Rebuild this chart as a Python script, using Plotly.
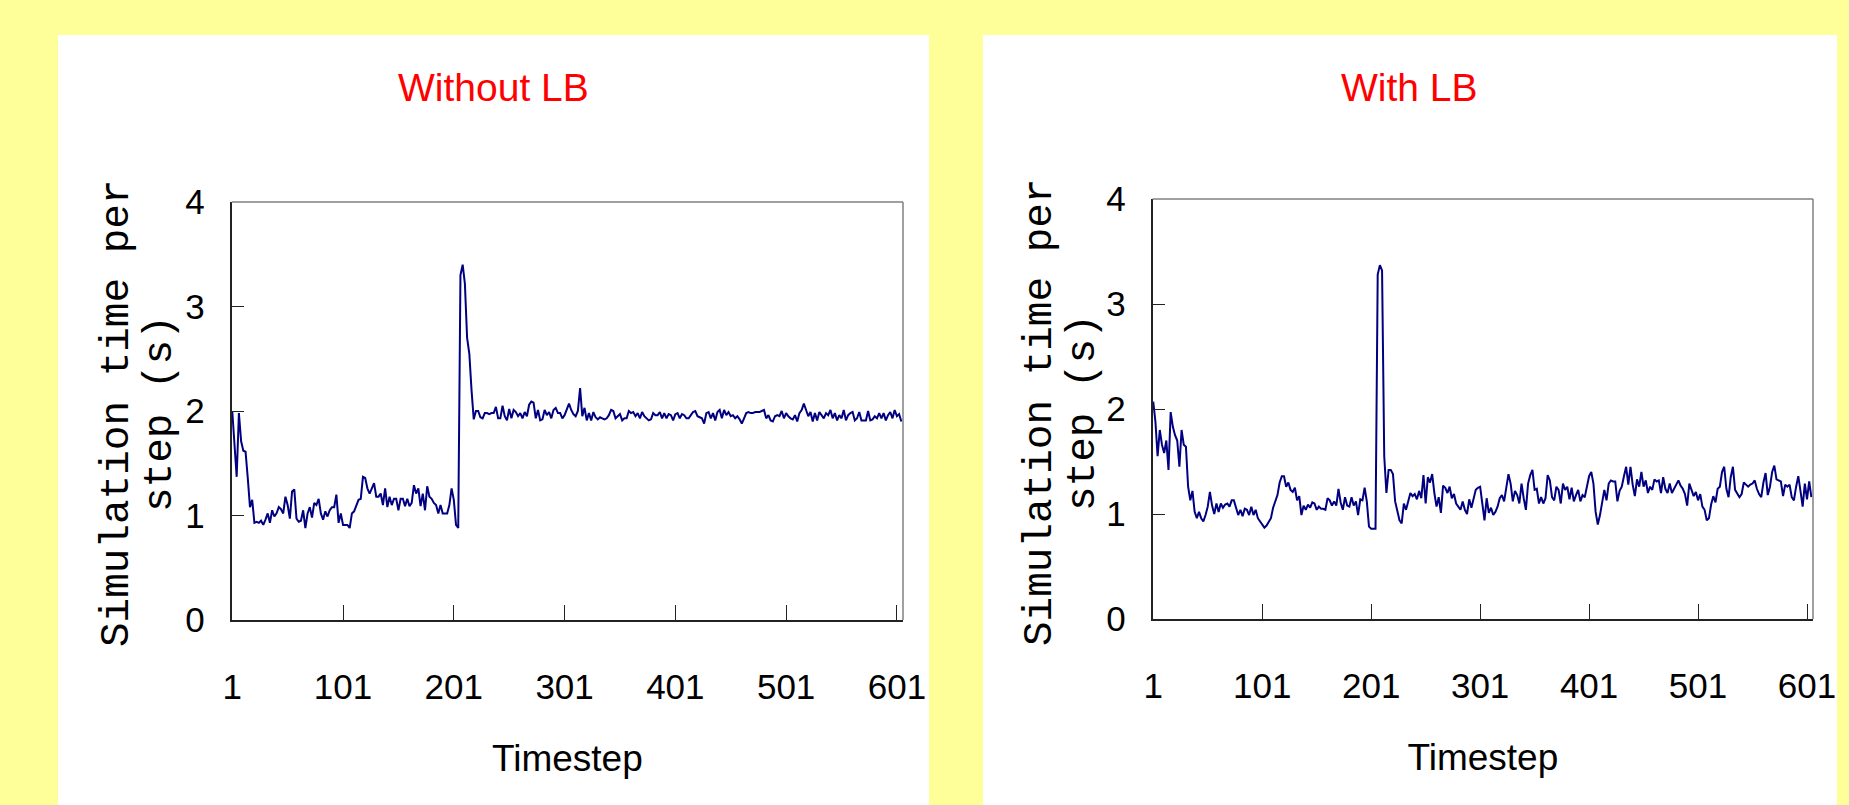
import plotly.graph_objects as go

# ---- data (every 2nd timestep) ----
timesteps = list(range(1, 606, 2))
tick_vals = [1, 101, 201, 301, 401, 501, 601]
tick_text = ["1", "101", "201", "301", "401", "501", "601"]
y_ticks = [0, 1, 2, 3, 4]

without_lb = [
    2.00, 1.72, 1.37, 1.98, 1.71, 1.62, 1.61, 1.36, 1.08, 1.15,
    0.93, 0.94, 0.93, 0.95, 0.91, 0.96, 1.02, 0.93, 1.05, 0.99,
    1.02, 1.08, 1.06, 1.02, 1.18, 1.10, 0.97, 1.23, 1.25, 0.97,
    0.94, 0.95, 1.05, 0.88, 1.02, 1.08, 0.98, 1.12, 1.10, 1.16,
    1.02, 0.96, 1.04, 0.99, 1.05, 1.08, 1.08, 1.20, 0.93, 1.02,
    0.91, 0.91, 0.91, 0.88, 1.02, 1.04, 1.10, 1.15, 1.16, 1.37,
    1.36, 1.26, 1.21, 1.26, 1.31, 1.18, 1.18, 1.21, 1.10, 1.26,
    1.08, 1.18, 1.10, 1.16, 1.16, 1.05, 1.16, 1.16, 1.09, 1.16,
    1.09, 1.12, 1.29, 1.21, 1.26, 1.09, 1.21, 1.05, 1.28, 1.18,
    1.16, 1.12, 1.10, 1.02, 1.10, 1.02, 1.02, 1.02, 1.10, 1.26,
    1.15, 0.91, 0.88, 3.30, 3.40, 3.22, 2.70, 2.55, 2.20, 1.92,
    2.00, 2.00, 1.94, 1.93, 1.98, 1.98, 1.97, 1.98, 1.98, 2.04,
    1.93, 1.93, 2.05, 1.95, 1.91, 2.02, 1.93, 2.01, 1.99, 1.95,
    1.98, 1.93, 1.99, 1.95, 2.06, 2.09, 2.08, 1.93, 2.01, 1.91,
    1.92, 2.01, 1.96, 1.99, 1.93, 2.01, 2.03, 1.98, 1.98, 1.93,
    1.96, 2.01, 2.07, 2.01, 1.97, 1.95, 2.00, 2.22, 1.95, 2.03,
    1.91, 1.98, 1.91, 1.99, 1.94, 1.92, 1.94, 1.93, 1.92, 1.93,
    1.96, 2.01, 2.00, 1.93, 1.95, 1.97, 1.91, 1.93, 1.93, 2.00,
    1.98, 1.99, 1.95, 1.98, 1.93, 1.99, 1.95, 1.93, 1.91, 1.92,
    1.98, 1.96, 1.96, 1.99, 1.93, 1.98, 1.93, 1.97, 1.96, 1.91,
    1.97, 1.98, 1.93, 1.97, 1.96, 1.93, 1.93, 1.96, 1.99, 2.00,
    1.95, 1.94, 1.93, 1.88, 1.98, 1.99, 1.93, 1.98, 1.91, 1.99,
    2.01, 1.93, 2.01, 1.96, 1.99, 1.95, 1.96, 1.93, 1.95, 1.92,
    1.88, 1.93, 1.98, 1.99, 1.98, 1.98, 1.99, 1.99, 1.99, 2.00,
    2.01, 1.93, 1.96, 1.91, 1.90, 1.95, 1.96, 1.95, 2.00, 1.93,
    1.98, 1.95, 1.93, 1.92, 1.96, 1.90, 1.98, 2.01, 2.07, 2.01,
    1.95, 1.99, 1.90, 1.98, 1.91, 1.99, 1.96, 1.93, 1.98, 1.96,
    2.01, 1.93, 1.98, 1.91, 1.96, 1.93, 2.01, 1.91, 1.96, 1.98,
    1.99, 1.91, 1.93, 1.99, 1.91, 1.91, 1.91, 2.00, 1.91, 1.92,
    1.95, 1.93, 1.98, 1.93, 1.98, 1.91, 1.96, 1.99, 1.93, 2.01,
    1.95, 1.97, 1.90,
]

with_lb = [
    2.07, 1.88, 1.55, 1.80, 1.66, 1.58, 1.70, 1.42, 1.97, 1.83,
    1.75, 1.70, 1.45, 1.80, 1.66, 1.64, 1.26, 1.13, 1.22, 1.02,
    0.96, 1.02, 0.96, 0.93, 0.99, 1.07, 1.21, 1.08, 1.00, 1.10,
    1.02, 1.10, 1.06, 1.09, 1.10, 1.07, 1.13, 1.13, 1.06, 0.99,
    1.04, 0.98, 1.05, 1.04, 0.99, 1.07, 0.99, 1.04, 0.96, 0.93,
    0.91, 0.87, 0.89, 0.93, 0.96, 1.06, 1.12, 1.18, 1.30, 1.36,
    1.36, 1.26, 1.30, 1.23, 1.21, 1.25, 1.13, 1.17, 0.99, 1.08,
    1.04, 1.09, 1.06, 1.11, 1.10, 1.04, 1.07, 1.05, 1.05, 1.04,
    1.15, 1.13, 1.08, 1.12, 1.08, 1.24, 1.11, 1.04, 1.16, 1.08,
    1.07, 1.16, 1.08, 1.12, 0.99, 1.14, 1.13, 1.25, 1.12, 0.88,
    0.86, 0.86, 0.86, 3.28, 3.37, 3.32, 1.55, 1.20, 1.42, 1.42,
    1.38, 1.12, 1.02, 0.94, 0.91, 1.10, 1.04, 1.13, 1.20, 1.17,
    1.19, 1.14, 1.22, 1.15, 1.37, 1.10, 1.35, 1.30, 1.38, 1.20,
    1.07, 1.16, 1.01, 1.27, 1.25, 1.20, 1.26, 1.15, 1.19, 1.10,
    1.07, 1.04, 1.12, 1.04, 1.00, 1.14, 1.06, 1.15, 1.23, 1.25,
    1.26, 1.10, 0.94, 1.15, 1.01, 1.06, 0.99, 1.02, 1.07, 1.15,
    1.18, 1.12, 1.24, 1.38, 1.29, 1.12, 1.22, 1.18, 1.10, 1.29,
    1.15, 1.04, 1.29, 1.37, 1.42, 1.23, 1.24, 1.10, 1.16, 1.10,
    1.15, 1.37, 1.32, 1.16, 1.13, 1.26, 1.23, 1.10, 1.29, 1.23,
    1.26, 1.14, 1.25, 1.12, 1.18, 1.23, 1.12, 1.18, 1.16, 1.26,
    1.36, 1.40, 1.29, 1.02, 0.90, 0.99, 1.10, 1.23, 1.13, 1.29,
    1.32, 1.31, 1.31, 1.12, 1.22, 1.26, 1.36, 1.45, 1.28, 1.45,
    1.28, 1.17, 1.33, 1.26, 1.40, 1.26, 1.32, 1.20, 1.26, 1.23,
    1.33, 1.31, 1.32, 1.20, 1.35, 1.24, 1.20, 1.29, 1.20, 1.24,
    1.29, 1.32, 1.27, 1.24, 1.19, 1.08, 1.29, 1.23, 1.17, 1.21,
    1.13, 1.19, 1.07, 1.04, 0.94, 0.96, 1.09, 1.17, 1.11, 1.24,
    1.26, 1.40, 1.45, 1.24, 1.16, 1.35, 1.45, 1.23, 1.20, 1.16,
    1.19, 1.30, 1.28, 1.26, 1.28, 1.29, 1.32, 1.24, 1.19, 1.16,
    1.30, 1.39, 1.18, 1.26, 1.40, 1.46, 1.33, 1.32, 1.31, 1.17,
    1.28, 1.26, 1.28, 1.16, 1.13, 1.26, 1.36, 1.22, 1.07, 1.29,
    1.14, 1.31, 1.16,
]

panel_titles = ["Without LB", "With LB"]
x_title = "Timestep"
y_title_lines = ["Simulation time per", "step (s)"]

# ---- styling ----
W, H = 1849, 805
SANS = "Liberation Sans, Arial, sans-serif"
MONO = "Liberation Mono, DejaVu Sans Mono, monospace"
YELLOW = "#FFFF99"
NAVY = "#000080"

fig = go.Figure()
fig.add_trace(go.Scatter(x=timesteps, y=without_lb, mode="lines",
                         line=dict(color=NAVY, width=2), xaxis="x", yaxis="y",
                         showlegend=False))
fig.add_trace(go.Scatter(x=timesteps, y=with_lb, mode="lines",
                         line=dict(color=NAVY, width=2), xaxis="x2", yaxis="y2",
                         showlegend=False))

def px(v):
    return v / W

def py(v):
    return 1 - v / H

xcommon = dict(range=[0.5, 606.5], tickmode="array", tickvals=tick_vals, ticktext=tick_text,
               ticks="inside", ticklen=15, tickwidth=1, tickcolor="#222222",
               showline=True, linecolor="#222222", linewidth=2, showgrid=False,
               zeroline=False, automargin=False,
               tickfont=dict(family=SANS, size=35, color="black"),
               ticklabelstandoff=35,
               title=dict(text=x_title, font=dict(family=SANS, size=37, color="black"),
                          standoff=40))
ycommon = dict(range=[0, 4], tickmode="array", tickvals=y_ticks,
               ticks="inside", ticklen=12, tickwidth=1, tickcolor="#222222",
               showline=True, linecolor="#222222", linewidth=2, showgrid=False,
               zeroline=False, automargin=False,
               tickfont=dict(family=SANS, size=35, color="black"),
               ticklabelstandoff=18)

fig.update_layout(
    width=W, height=H, autosize=False,
    margin=dict(l=0, r=0, t=0, b=0, pad=0),
    paper_bgcolor=YELLOW, plot_bgcolor="white",
    xaxis=dict(domain=[px(231.7), px(903)], anchor="y", **xcommon),
    yaxis=dict(domain=[py(620), py(202)], anchor="x", **ycommon),
    xaxis2=dict(domain=[px(1152.7), px(1813)], anchor="y2", **xcommon),
    yaxis2=dict(domain=[py(619), py(199)], anchor="x2", **ycommon),
)

# white panels
for x0, x1 in [(58, 929), (983, 1837)]:
    fig.add_shape(type="rect", xref="paper", yref="paper",
                  x0=px(x0), x1=px(x1), y0=0, y1=py(35),
                  fillcolor="white", line=dict(width=0), layer="below")

# gray top/right frame
for xr, yr in [("x", "y"), ("x2", "y2")]:
    fig.add_shape(type="line", xref=f"{xr} domain", yref=f"{yr} domain",
                  x0=0, x1=1, y0=1, y1=1, line=dict(color="#808080", width=1.5))
    fig.add_shape(type="line", xref=f"{xr} domain", yref=f"{yr} domain",
                  x0=1, x1=1, y0=0, y1=1, line=dict(color="#808080", width=1.5))

# panel titles
for txt, cx in zip(panel_titles, [493, 1409]):
    fig.add_annotation(text=txt, xref="paper", yref="paper", x=px(cx), y=py(88),
                       xanchor="center", yanchor="middle", showarrow=False,
                       font=dict(family=SANS, size=39, color="#FF0000"))

# y-axis titles (two rotated lines)
for (c1, c2, cy) in [(117, 160, 414), (1040, 1083, 413)]:
    for txt, cx in zip(y_title_lines, [c1, c2]):
        fig.add_annotation(text=txt, xref="paper", yref="paper", x=px(cx), y=py(cy),
                           xanchor="center", yanchor="middle", showarrow=False,
                           textangle=-90,
                           font=dict(family=MONO, size=41, color="black"))

fig.write_html("out.html", post_script="document.body.style.margin='0';")
